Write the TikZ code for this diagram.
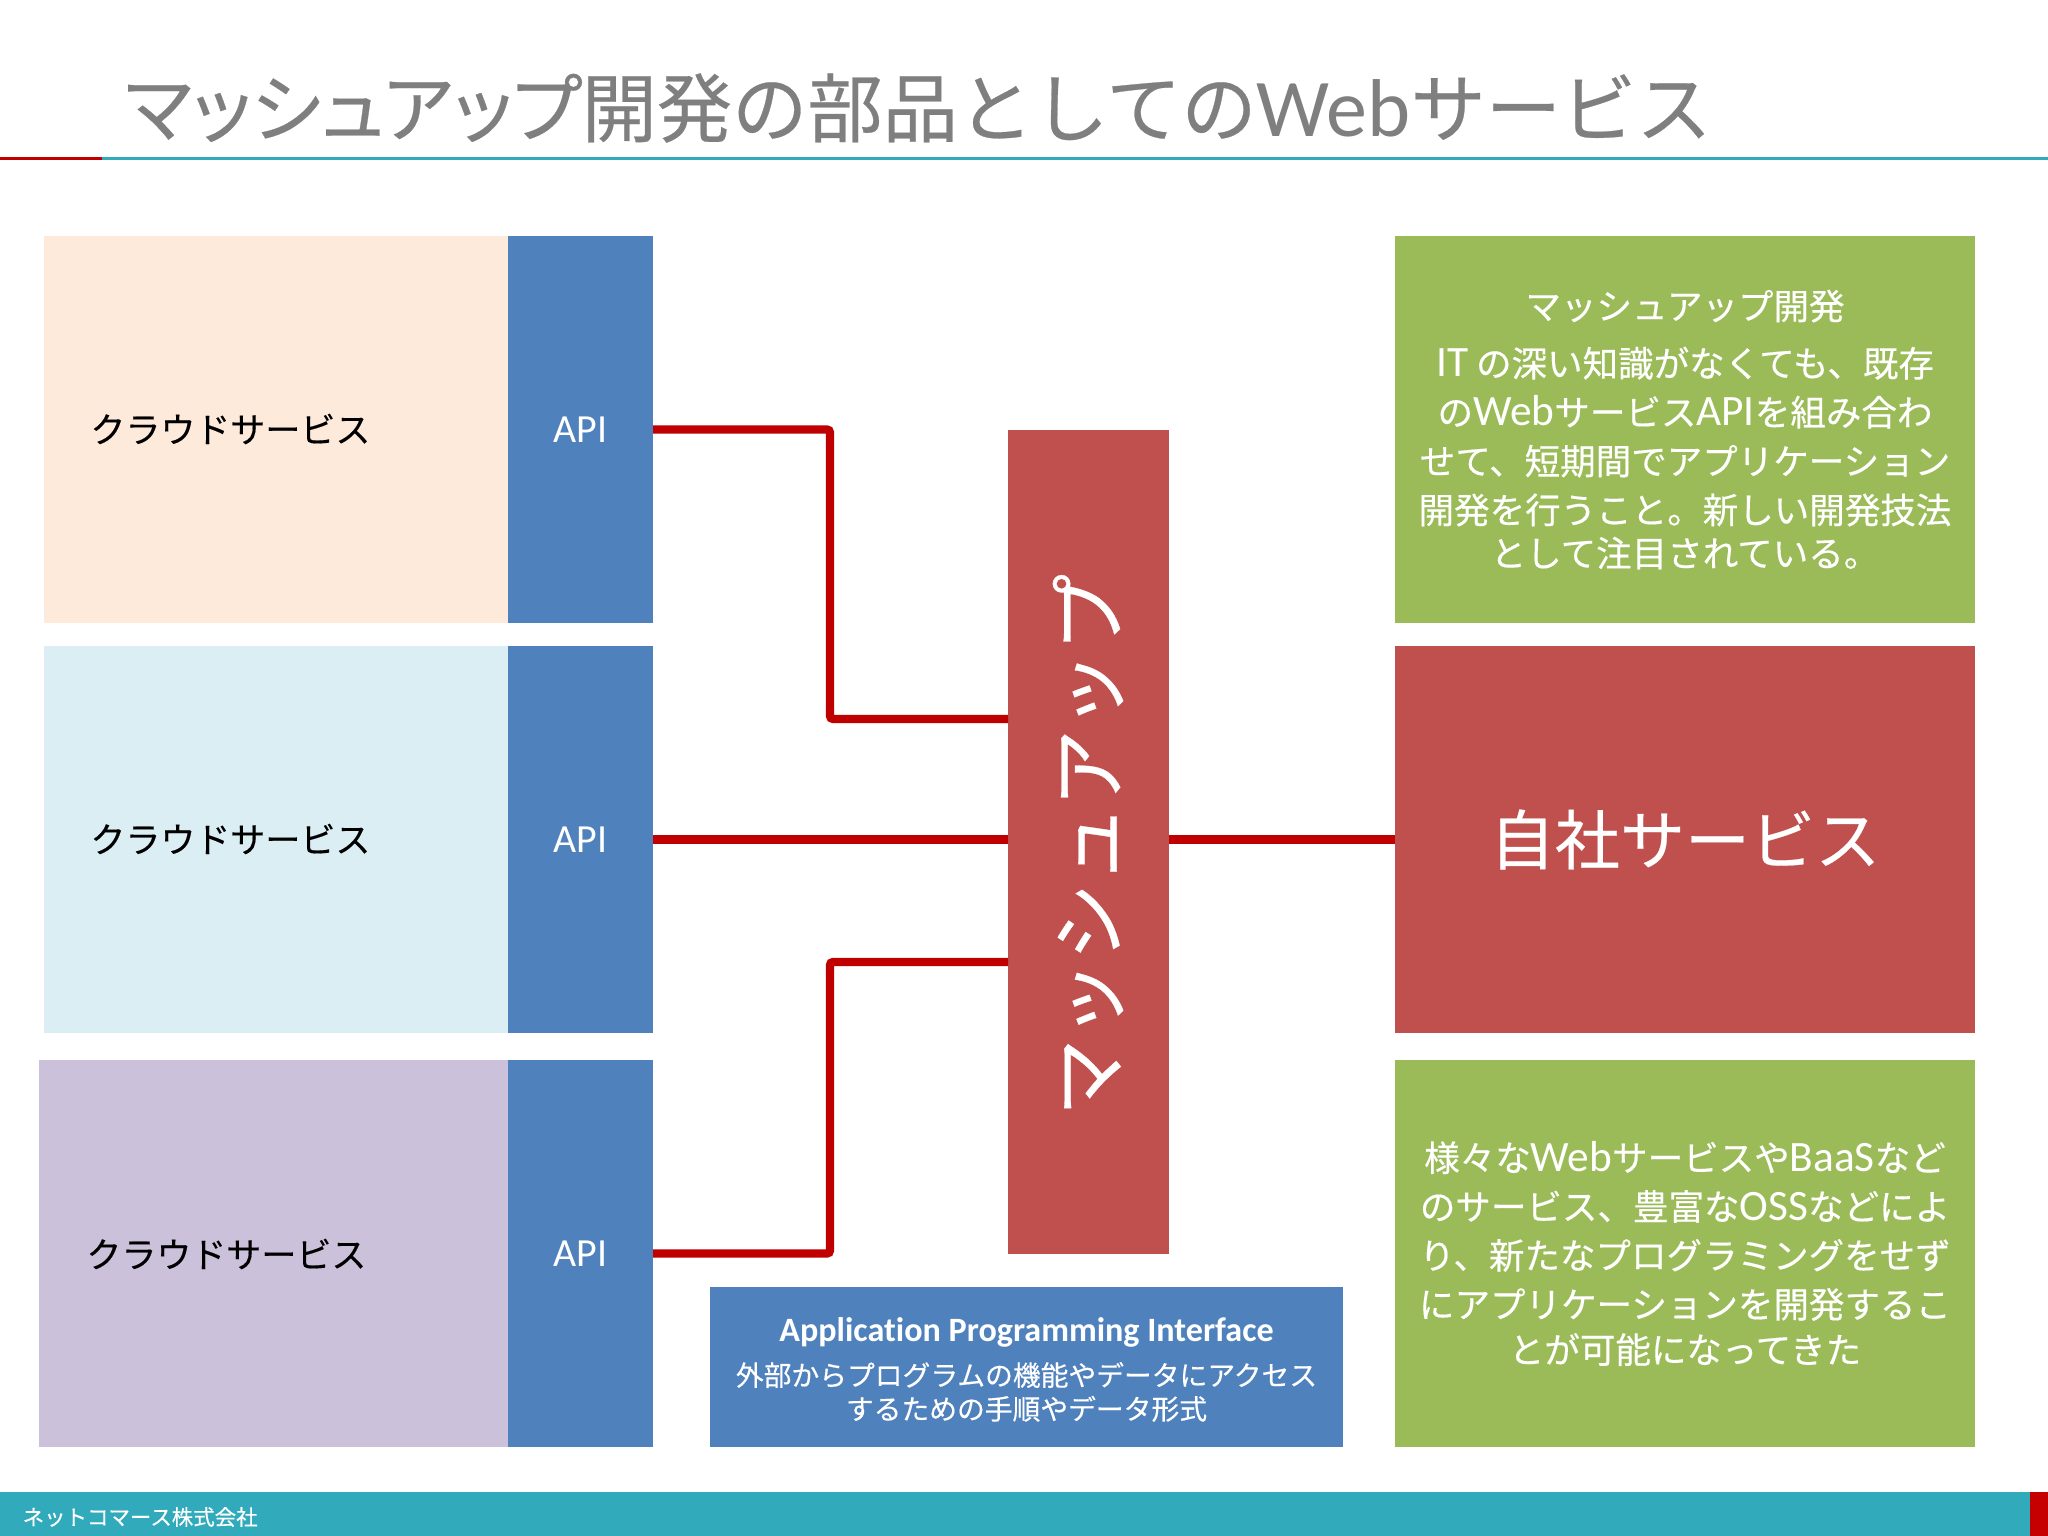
\documentclass[tikz,border=0pt]{standalone}
\usepackage{fontspec}
\setmainfont[RawFeature={embolden=0.35}]{Noto Sans CJK JP}
\newfontfamily\latfont[Scale=1.09,Ligatures=NoCommon]{Carlito}
\newfontfamily\notefont[Scale=1.22]{Carlito}
\newfontfamily\palfont[RawFeature={+palt;embolden=0.35}]{Noto Sans CJK JP}
\newcommand{\lat}[1]{{\latfont #1}}
\newcommand{\nlat}[1]{{\notefont #1}}
\definecolor{blueapi}{HTML}{4F81BD}
\definecolor{redbox}{HTML}{C0504D}
\definecolor{greenbox}{HTML}{9BBB59}
\definecolor{peachbox}{HTML}{FDEADA}
\definecolor{skybox}{HTML}{DBEEF4}
\definecolor{lilacbox}{HTML}{CCC1DA}
\definecolor{tealbar}{HTML}{31ABBB}
\definecolor{wirered}{HTML}{C00000}
\definecolor{titlegray}{HTML}{7F7F7F}
\tikzset{
    x=0.01cm, y=-0.01cm,
    box/.style={minimum width=#1, inner sep=0pt, outer sep=0pt, anchor=north west, align=center},
    cloudbox/.style={box=464*0.01cm, minimum height=387*0.01cm},
    cloudlabel/.style={anchor=west, font=\fontsize{9.95}{12}\selectfont},
    apibox/.style={box=145*0.01cm, minimum height=387*0.01cm, fill=blueapi, text=white, font=\latfont\fontsize{10.4}{13}\selectfont},
    notebox/.style={box=580*0.01cm, minimum height=387*0.01cm, fill=greenbox, text=white, font=\fontsize{10.1}{13.9}\selectfont},
    wire/.style={draw=wirered, line width=2.3pt, rounded corners=0.8pt}
}
\begin{document}
\begin{tikzpicture}
    \useasboundingbox (0,0) rectangle (2048,1536);
    % title
    \node[anchor=west, inner sep=0pt, text=titlegray, font=\fontsize{21.4}{24}\selectfont] (title) at (124,108) {{\palfont マッシュアップ}開発の部品としての\lat{Web}サービス};
    \fill[wirered] (0,156.5) rectangle (102,159.5);
    \fill[tealbar] (102,156.5) rectangle (2048,159.5);
    % cloud services
    \node[cloudbox, fill=peachbox] (cloudA) at (44,236) {};
    \node[cloudbox, fill=skybox] (cloudB) at (44,646) {};
    \node[box=469*0.01cm, minimum height=387*0.01cm, fill=lilacbox] (cloudC) at (39,1060) {};
    \node[cloudlabel] (labelA) at (78,429) {クラウドサービス};
    \node[cloudlabel] (labelB) at (78,839) {クラウドサービス};
    \node[cloudlabel] (labelC) at (74,1254) {クラウドサービス};
    % api
    \node[apibox] (apiA) at (508,236) {\raisebox{-0.4pt}{API}};
    \node[apibox] (apiB) at (508,646) {\raisebox{-0.4pt}{API}};
    \node[apibox] (apiC) at (508,1060) {\raisebox{-0.4pt}{API}};
    % center
    \node[box=161*0.01cm, minimum height=824*0.01cm, fill=redbox] (mash) at (1008,430) {};
    \node[rotate=90, text=white, font=\fontsize{22.1}{24}\selectfont] (mashlabel) at (1088,845) {マッシュアップ};
    % right
    \node[notebox] (noteA) at (1395,236) {マッシュアップ開発\\[2.4pt]
        \nlat{IT} の深い知識がなくても、既存\\
        の\nlat{Web}サービス\nlat{API}を組み合わ\\
        せて、短期間でアプリケーション\\
        開発を行うこと。新しい開発技法\\[-1.6pt]
        として注目されている。};
    \node[box=580*0.01cm, minimum height=387*0.01cm, fill=redbox, text=white, font=\fontsize{18.5}{22}\selectfont] (self) at (1395,646) {自社サービス};
    \node[notebox] (noteB) at (1395,1060) {様々な\nlat{Web}サービスや\nlat{BaaS}など\\
        のサービス、豊富な\nlat{OSS}などによ\\
        り、新たなプログラミングをせず\\
        にアプリケーションを開発するこ\\[-1pt]
        とが可能になってきた};
    % api note
    \node[box=633*0.01cm, minimum height=160*0.01cm, fill=blueapi] (apinote) at (710,1287) {};
    \node[text=white, align=center, inner sep=0pt, font=\fontsize{7.9}{9.6}\selectfont] (apitext) at ([yshift=-0.75pt]apinote.center) {{\latfont\bfseries\fontsize{8.9}{12}\selectfont Application Programming Interface}\\[3pt]
        外部からプログラムの機能やデータにアクセス\\
        するための手順やデータ形式};
    % connectors
    \draw[wire] (apiA.east) -| (830,719) -- (mash.west |- 830,719);
    \draw[wire] (apiB.east) -- (mash.west |- apiB.east);
    \draw[wire] (apiC.east) -| (830,962) -- (mash.west |- 830,962);
    \draw[wire] (mash.east |- self.west) -- (self.west);
    % footer
    \fill[tealbar] (0,1492) rectangle (2030,1536);
    \fill[wirered!90!red] (2030,1492) rectangle (2048,1536);
    \node[anchor=west, inner sep=0pt, text=white, font=\fontsize{6.1}{7}\selectfont] (footer) at (22,1517) {ネットコマース株式会社};
\end{tikzpicture}
\end{document}
